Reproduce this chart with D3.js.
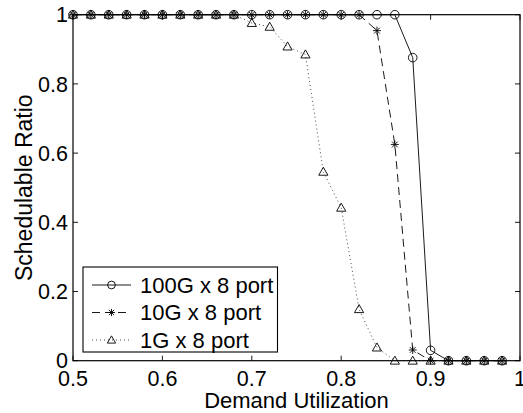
<!DOCTYPE html>
<html>
<head>
<meta charset="utf-8">
<script src="https://cdn.jsdelivr.net/npm/d3@7"></script>
<style>
  body { margin: 0; background: #fff; }
  text { font-family: "Liberation Sans", Arial, Helvetica, sans-serif; fill: #000; }
</style>
</head>
<body>
<svg id="chart" width="523" height="413"></svg>
<script>
// demand utilization (x)
const utilization = [0.5, 0.52, 0.54, 0.56, 0.58, 0.6, 0.62, 0.64, 0.66, 0.68,
                     0.7, 0.72, 0.74, 0.76, 0.78, 0.8, 0.82, 0.84, 0.86, 0.88,
                     0.9, 0.92, 0.94, 0.96, 0.98];

// schedulable ratio per configuration
const ratio100G = [1, 1, 1, 1, 1, 1, 1, 1, 1, 1,
                   1, 1, 1, 1, 1, 1, 1, 1, 1, 0.876,
                   0.03, 0, 0, 0, 0];
const ratio10G  = [1, 1, 1, 1, 1, 1, 1, 1, 1, 1,
                   1, 1, 1, 1, 1, 1, 1, 0.954, 0.625, 0.031,
                   0, 0, 0, 0, 0];
const ratio1G   = [1, 1, 1, 1, 1, 1, 1, 1, 1, 1,
                   0.976, 0.965, 0.908, 0.885, 0.546, 0.442, 0.149, 0.038, 0, 0,
                   0, 0, 0, 0, 0];

const seriesNames = ["100G x 8 port", "10G x 8 port", "1G x 8 port"];
const xTicks = [0.5, 0.6, 0.7, 0.8, 0.9, 1];
const yTicks = [0, 0.2, 0.4, 0.6, 0.8, 1];

const margin = {left: 73, right: 3, top: 14.7, bottom: 52.3};
const width = 523, height = 413;

const svg = d3.select("#chart");

let x = d3.scaleLinear().domain([0.5, 1]).range([margin.left, width - margin.right]);
let y = d3.scaleLinear().domain([0, 1]).range([height - margin.bottom, margin.top]);

const styles = [
    {values: ratio100G, marker: "circle",   dash: null,  color: "#000"},
    {values: ratio10G,  marker: "star",     dash: "8,5", color: "#000"},
    {values: ratio1G,   marker: "triangle", dash: "1,3", color: "#333"}
];

// draw a MATLAB-like marker into group g at (cx, cy)
function drawMarker(g, type, cx, cy, k) {
    k = k || 1;
    if (type == "circle") {
        g.append("circle").attr("cx", cx).attr("cy", cy).attr("r", 4.3 * k)
            .attr("fill", "none").attr("stroke", "#000").attr("stroke-width", 0.9);
    } else if (type == "triangle") {
        let s = 4.6 * k;
        g.append("path")
            .attr("d", `M${cx},${cy - s}L${cx + s},${cy + s * 0.75}L${cx - s},${cy + s * 0.75}Z`)
            .attr("fill", "none").attr("stroke", "#000").attr("stroke-width", 0.9);
    } else {
        let s = 4 * k, d = 2.9 * k;
        g.append("path")
            .attr("d", `M${cx - s},${cy}H${cx + s}M${cx},${cy - s}V${cy + s}` +
                       `M${cx - d},${cy - d}L${cx + d},${cy + d}M${cx - d},${cy + d}L${cx + d},${cy - d}`)
            .attr("fill", "none").attr("stroke", "#000").attr("stroke-width", 0.9);
    }
}

// ticks (inward, on all four sides)
let tickG = svg.append("g").attr("stroke", "#000").attr("stroke-width", 0.9);
xTicks.forEach(function(t) {
    tickG.append("line").attr("x1", x(t)).attr("x2", x(t)).attr("y1", y(0)).attr("y2", y(0) - 5);
    tickG.append("line").attr("x1", x(t)).attr("x2", x(t)).attr("y1", y(1)).attr("y2", y(1) + 5);
});
yTicks.forEach(function(t) {
    tickG.append("line").attr("x1", x(0.5)).attr("x2", x(0.5) + 5).attr("y1", y(t)).attr("y2", y(t));
    tickG.append("line").attr("x1", x(1)).attr("x2", x(1) - 5).attr("y1", y(t)).attr("y2", y(t));
});

// tick labels
svg.append("g").selectAll("text").data(xTicks).enter().append("text")
    .attr("x", d => x(d)).attr("y", y(0) + 25)
    .attr("text-anchor", "middle").attr("font-size", 21.5)
    .text(d => d3.format("")(d));
svg.append("g").selectAll("text").data(yTicks).enter().append("text")
    .attr("x", x(0.5) - 5).attr("y", d => y(d)).attr("dy", "0.36em")
    .attr("text-anchor", "end").attr("font-size", 21.5)
    .text(d => d3.format("")(d));

// axis titles
svg.append("text").attr("x", (x(0.5) + x(1)) / 2).attr("y", 407.5)
    .attr("text-anchor", "middle").attr("font-size", 22)
    .text("Demand Utilization");
svg.append("text")
    .attr("transform", `translate(32,${(y(0) + y(1)) / 2}) rotate(-90)`)
    .attr("text-anchor", "middle").attr("font-size", 23)
    .text("Schedulable Ratio");

// series lines and markers
let line = d3.line().x(d => x(d[0])).y(d => y(d[1]));
styles.forEach(function(s) {
    let pts = utilization.map((u, i) => [u, s.values[i]]);
    svg.append("path").datum(pts).attr("d", line)
        .attr("fill", "none").attr("stroke", s.color).attr("stroke-width", 0.9)
        .attr("stroke-dasharray", s.dash);
    let mg = svg.append("g");
    pts.forEach(p => drawMarker(mg, s.marker, x(p[0]), y(p[1])));
});

// axes box
svg.append("rect").attr("x", x(0.5)).attr("y", y(1))
    .attr("width", x(1) - x(0.5)).attr("height", y(0) - y(1))
    .attr("fill", "none").attr("stroke", "#000").attr("stroke-width", 1.2);

// legend
let lg = svg.append("g");
lg.append("rect").attr("x", 83).attr("y", 267).attr("width", 194.5).attr("height", 85)
    .attr("fill", "#fff").attr("stroke", "#000").attr("stroke-width", 1.1);
styles.forEach(function(s, i) {
    let cy = 285 + i * 27.5;
    lg.append("line").attr("x1", 92).attr("x2", 131).attr("y1", cy).attr("y2", cy)
        .attr("stroke", s.color).attr("stroke-width", 0.9).attr("stroke-dasharray", s.dash);
    drawMarker(lg, s.marker, 111.5, cy, 0.9);
    lg.append("text").attr("x", 140).attr("y", cy).attr("dy", "0.36em")
        .attr("font-size", 22).text(seriesNames[i]);
});
</script>
</body>
</html>
